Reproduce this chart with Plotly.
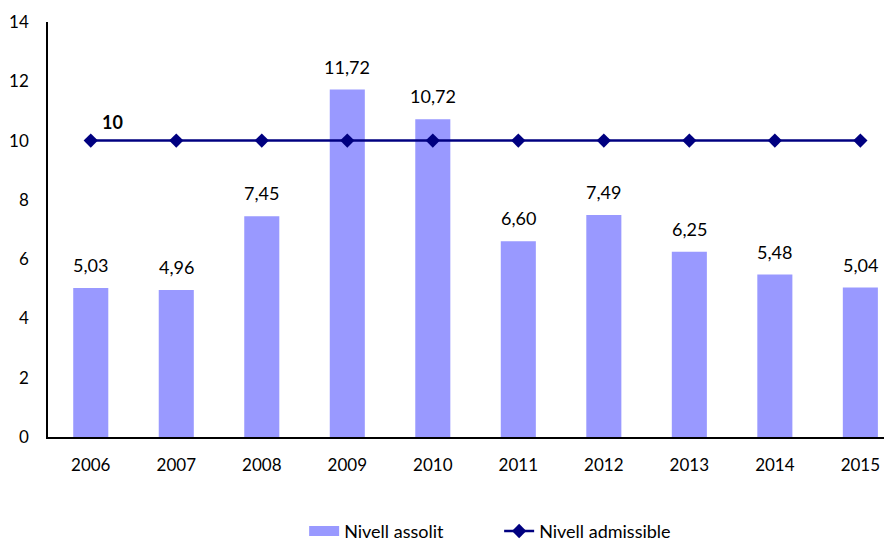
import plotly.graph_objects as go

years = ["2006", "2007", "2008", "2009", "2010", "2011", "2012", "2013", "2014", "2015"]
assolit = [5.03, 4.96, 7.45, 11.72, 10.72, 6.60, 7.49, 6.25, 5.48, 5.04]
admissible = [10, 10, 10, 10, 10, 10, 10, 10, 10, 10]
yticks = [0, 2, 4, 6, 8, 10, 12, 14]

FONT = "Lato"
BAR = "#9999FF"
NAVY = "#000080"

fig = go.Figure()
fig.add_trace(go.Bar(
    x=years, y=assolit, name="Nivell assolit",
    marker=dict(color=BAR, line=dict(width=0)),
    width=0.41, showlegend=False,
))
# legend swatch for bars (wide rectangle like the reference)
fig.add_trace(go.Scatter(
    x=[None], y=[None], name="Nivell assolit", mode="lines",
    line=dict(color=BAR, width=14), showlegend=True,
))
fig.add_trace(go.Scatter(
    x=years, y=admissible, name="Nivell admissible",
    mode="lines+markers",
    line=dict(color=NAVY, width=2.5),
    marker=dict(symbol="diamond", size=11, color=NAVY),
))

annotations = []
for i, v in enumerate(assolit):
    annotations.append(dict(x=i, y=v, xref="x", yref="y",
                            text=f"{v:.2f}".replace(".", ","),
                            showarrow=False, yshift=23,
                            font=dict(family=FONT, size=18, color="#000000")))
annotations.append(dict(x=0, y=admissible[0], xref="x", yref="y", text="<b>10</b>",
                        showarrow=False, xshift=22, yshift=19,
                        font=dict(family=FONT, size=18, color="#000000")))

# page body has an 8px margin, so the figure is 8px smaller than the window
fig.update_layout(
    width=884, height=534,
    margin=dict(l=40, r=0, t=14, b=105, autoexpand=False),
    paper_bgcolor="white", plot_bgcolor="white",
    font=dict(family=FONT, size=17, color="#000000"),
    showlegend=True,
    annotations=annotations,
    legend=dict(orientation="h", xref="container", yref="container",
                x=0.335, xanchor="left", y=0.02, yanchor="middle",
                font=dict(family=FONT, size=18), traceorder="normal",
                entrywidth=150, bgcolor="rgba(0,0,0,0)"),
    xaxis=dict(type="category", range=[-0.5, 9.37], showline=True, linecolor="#000000",
               linewidth=1.5, ticks="", showgrid=False, zeroline=False,
               tickfont=dict(size=17), ticklabelstandoff=12),
    yaxis=dict(range=[0, 14], tickvals=yticks, showline=True, linecolor="#000000", linewidth=1.5,
               ticks="", showgrid=False, zeroline=False, tickfont=dict(size=17),
               ticklabelstandoff=14),
)

fig.write_html("out.html")
